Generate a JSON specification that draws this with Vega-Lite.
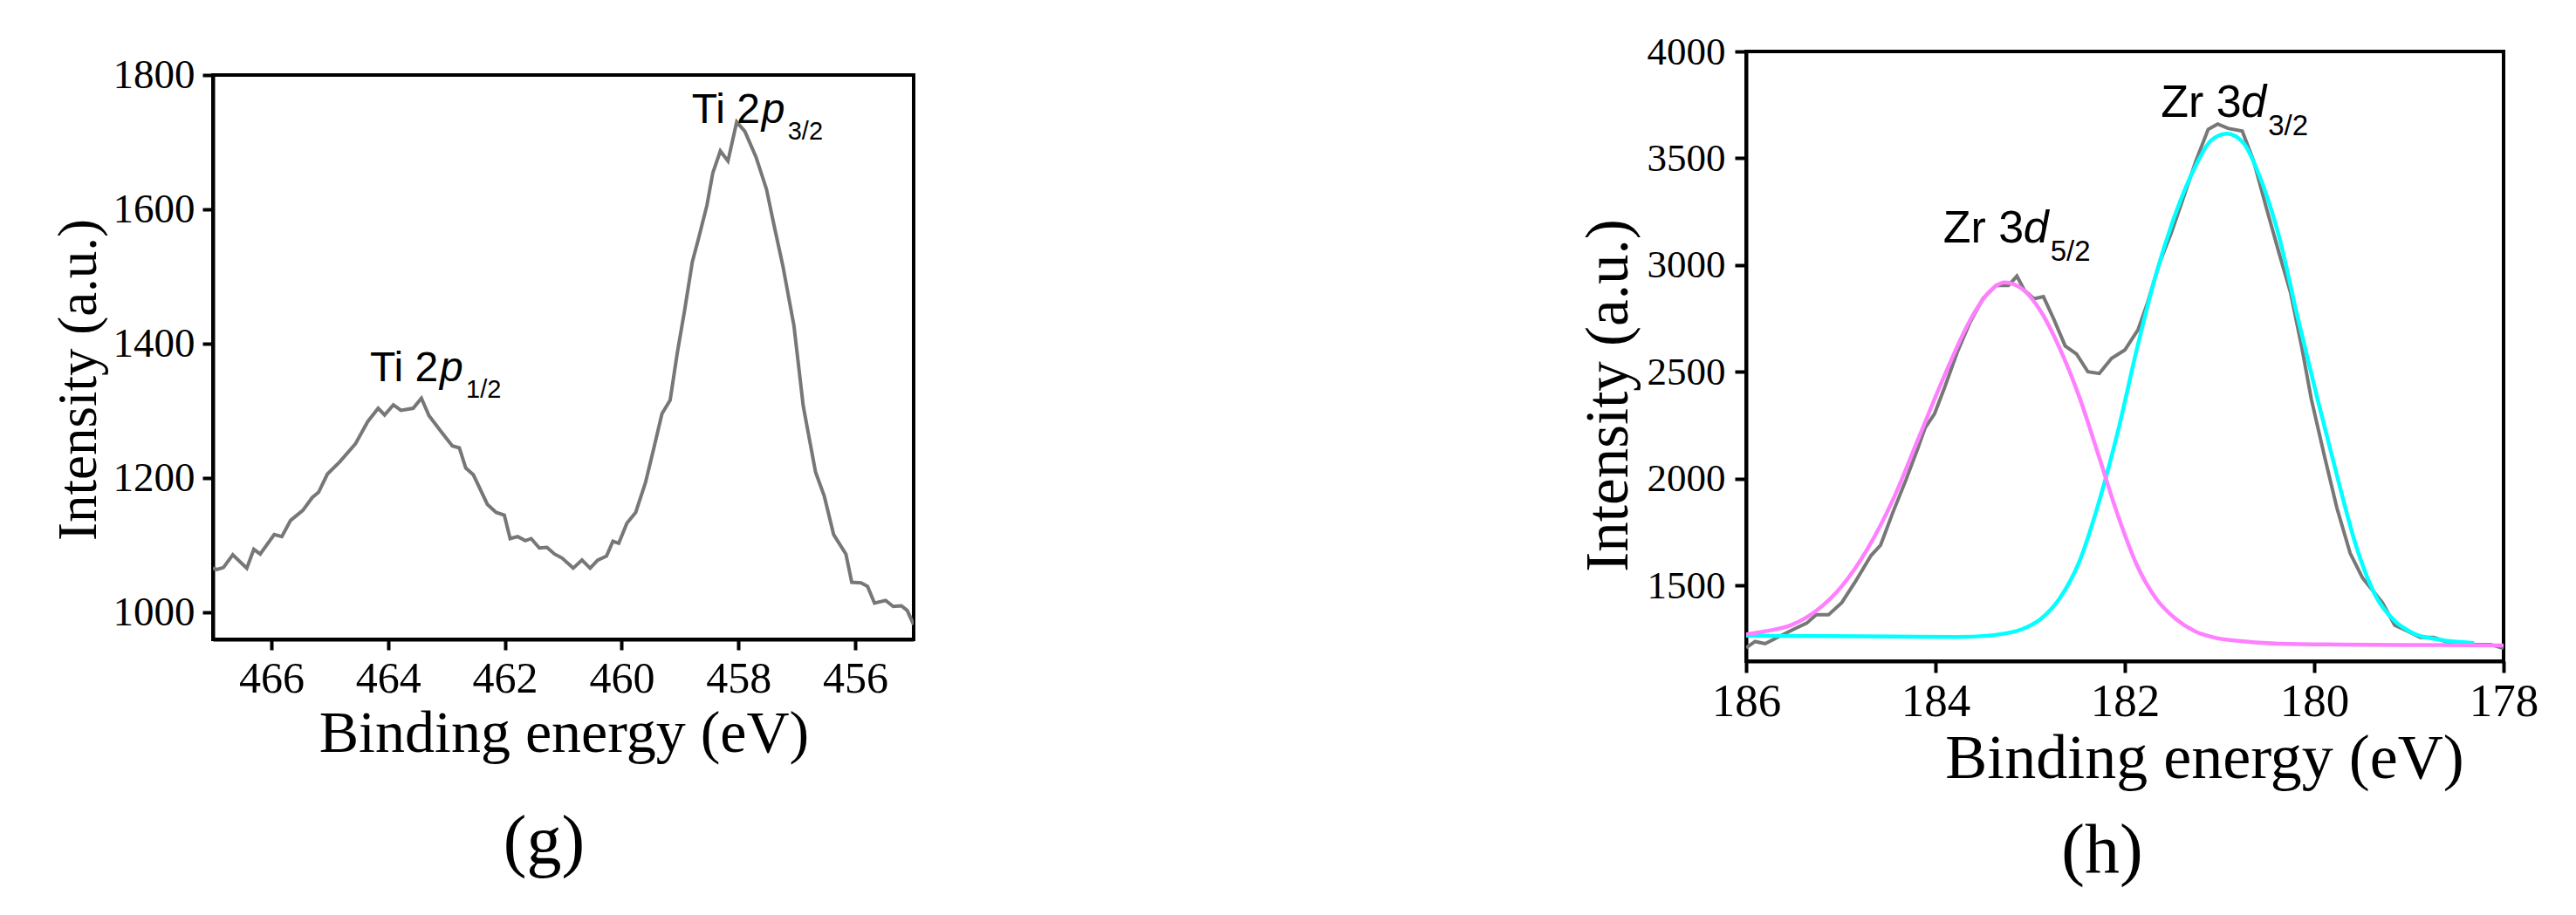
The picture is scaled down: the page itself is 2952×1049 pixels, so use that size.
{
  "$schema": "https://vega.github.io/schema/vega-lite/v6.json",
  "background": "white",
  "padding": {"left": 57, "top": 35, "right": 0, "bottom": 0},
  "spacing": 758,
  "config": {
    "view": {"stroke": "black", "strokeWidth": 4},
    "axis": {
      "grid": false,
      "domainColor": "black", "domainWidth": 4,
      "tickColor": "black", "tickWidth": 4,
      "labelFont": "Liberation Serif", "labelColor": "black",
      "titleFont": "Liberation Serif", "titleColor": "black", "titleFontWeight": "normal",
      "labelFlush": false, "labelOverlap": false, "format": "d"
    }
  },
  "datasets": {
    "ti": [
      {"be":467.00,"i":1066},{"be":466.93,"i":1064},{"be":466.82,"i":1067},{"be":466.66,"i":1086},{"be":466.42,"i":1066},
      {"be":466.30,"i":1094},{"be":466.19,"i":1087},{"be":465.95,"i":1116},{"be":465.82,"i":1113},{"be":465.67,"i":1137},
      {"be":465.46,"i":1152},{"be":465.30,"i":1171},{"be":465.19,"i":1179},{"be":465.04,"i":1206},{"be":464.83,"i":1224},
      {"be":464.56,"i":1251},{"be":464.35,"i":1284},{"be":464.17,"i":1304},{"be":464.06,"i":1294},{"be":463.91,"i":1309},
      {"be":463.78,"i":1301},{"be":463.57,"i":1304},{"be":463.43,"i":1319},{"be":463.30,"i":1293},{"be":463.09,"i":1269},
      {"be":462.90,"i":1248},{"be":462.78,"i":1245},{"be":462.67,"i":1215},{"be":462.54,"i":1205},{"be":462.30,"i":1161},
      {"be":462.15,"i":1149},{"be":462.01,"i":1145},{"be":461.91,"i":1110},{"be":461.78,"i":1113},{"be":461.65,"i":1107},
      {"be":461.55,"i":1110},{"be":461.41,"i":1096},{"be":461.28,"i":1097},{"be":461.15,"i":1087},{"be":461.02,"i":1081},
      {"be":460.83,"i":1066},{"be":460.68,"i":1078},{"be":460.54,"i":1066},{"be":460.41,"i":1078},{"be":460.26,"i":1084},
      {"be":460.15,"i":1106},{"be":460.05,"i":1103},{"be":459.91,"i":1133},{"be":459.76,"i":1149},{"be":459.59,"i":1194},
      {"be":459.44,"i":1248},{"be":459.31,"i":1296},{"be":459.17,"i":1316},{"be":459.05,"i":1385},{"be":458.92,"i":1451},
      {"be":458.79,"i":1522},{"be":458.68,"i":1558},{"be":458.54,"i":1606},{"be":458.44,"i":1654},{"be":458.31,"i":1687},
      {"be":458.18,"i":1672},{"be":458.03,"i":1730},{"be":457.89,"i":1716},{"be":457.70,"i":1678},{"be":457.52,"i":1630},
      {"be":457.39,"i":1576},{"be":457.24,"i":1516},{"be":457.05,"i":1427},{"be":456.89,"i":1307},{"be":456.68,"i":1209},
      {"be":456.53,"i":1173},{"be":456.37,"i":1116},{"be":456.16,"i":1087},{"be":456.06,"i":1045},{"be":455.90,"i":1044},
      {"be":455.79,"i":1039},{"be":455.67,"i":1014},{"be":455.48,"i":1018},{"be":455.35,"i":1009},{"be":455.21,"i":1010},
      {"be":455.11,"i":1003},{"be":455.00,"i":982}
    ],
    "tiLab": [
      {"main":"Ti 2","it":"p","sub":"3/2","be":458.80,"i":1728},
      {"main":"Ti 2","it":"p","sub":"1/2","be":464.31,"i":1344}
    ],
    "zrLab": [
      {"main":"Zr 3","it":"d","sub":"3/2","be":181.62,"i":3692},
      {"main":"Zr 3","it":"d","sub":"5/2","be":183.92,"i":3104}
    ],
    "zr": [
      {"s":"raw","be":186.00,"i":1208},{"s":"raw","be":185.905,"i":1237},{"s":"raw","be":185.80,"i":1227},{"s":"raw","be":185.67,"i":1256},
      {"s":"raw","be":185.50,"i":1294},{"s":"raw","be":185.36,"i":1323},{"s":"raw","be":185.26,"i":1362},{"s":"raw","be":185.13,"i":1362},
      {"s":"raw","be":184.99,"i":1419},{"s":"raw","be":184.85,"i":1515},{"s":"raw","be":184.68,"i":1640},{"s":"raw","be":184.58,"i":1688},
      {"s":"raw","be":184.45,"i":1842},{"s":"raw","be":184.31,"i":1996},{"s":"raw","be":184.18,"i":2150},{"s":"raw","be":184.11,"i":2237},
      {"s":"raw","be":184.01,"i":2304},{"s":"raw","be":183.91,"i":2419},{"s":"raw","be":183.77,"i":2592},{"s":"raw","be":183.64,"i":2727},
      {"s":"raw","be":183.50,"i":2842},{"s":"raw","be":183.36,"i":2904},{"s":"raw","be":183.23,"i":2904},{"s":"raw","be":183.14,"i":2948},
      {"s":"raw","be":183.06,"i":2881},{"s":"raw","be":182.96,"i":2842},{"s":"raw","be":182.86,"i":2852},{"s":"raw","be":182.75,"i":2746},
      {"s":"raw","be":182.63,"i":2621},{"s":"raw","be":182.51,"i":2583},{"s":"raw","be":182.39,"i":2500},{"s":"raw","be":182.27,"i":2492},
      {"s":"raw","be":182.14,"i":2563},{"s":"raw","be":182.00,"i":2602},{"s":"raw","be":181.86,"i":2698},{"s":"raw","be":181.76,"i":2823},
      {"s":"raw","be":181.63,"i":3015},{"s":"raw","be":181.51,"i":3150},{"s":"raw","be":181.39,"i":3304},{"s":"raw","be":181.25,"i":3487},
      {"s":"raw","be":181.12,"i":3635},{"s":"raw","be":181.02,"i":3660},{"s":"raw","be":180.91,"i":3640},{"s":"raw","be":180.76,"i":3627},
      {"s":"raw","be":180.64,"i":3487},{"s":"raw","be":180.51,"i":3275},{"s":"raw","be":180.37,"i":3054},{"s":"raw","be":180.25,"i":2871},
      {"s":"raw","be":180.13,"i":2612},{"s":"raw","be":180.03,"i":2371},{"s":"raw","be":179.89,"i":2102},{"s":"raw","be":179.76,"i":1862},
      {"s":"raw","be":179.62,"i":1650},{"s":"raw","be":179.49,"i":1535},{"s":"raw","be":179.28,"i":1419},{"s":"raw","be":179.15,"i":1314},
      {"s":"raw","be":179.01,"i":1285},{"s":"raw","be":178.88,"i":1256},{"s":"raw","be":178.74,"i":1256},{"s":"raw","be":178.61,"i":1237},
      {"s":"raw","be":178.35,"i":1223},{"s":"raw","be":178.14,"i":1223},{"s":"raw","be":178.00,"i":1205},
      {"s":"p52","be":186.00,"i":1271},{"s":"p52","be":185.80,"i":1285},{"s":"p52","be":185.53,"i":1313},{"s":"p52","be":185.26,"i":1381},
      {"s":"p52","be":184.99,"i":1496},{"s":"p52","be":184.72,"i":1669},{"s":"p52","be":184.45,"i":1900},{"s":"p52","be":184.18,"i":2188},
      {"s":"p52","be":183.91,"i":2477},{"s":"p52","be":183.64,"i":2737},{"s":"p52","be":183.44,"i":2871},{"s":"p52","be":183.27,"i":2919},
      {"s":"p52","be":183.09,"i":2890},{"s":"p52","be":182.89,"i":2785},{"s":"p52","be":182.69,"i":2612},{"s":"p52","be":182.48,"i":2381},
      {"s":"p52","be":182.28,"i":2112},{"s":"p52","be":182.07,"i":1823},{"s":"p52","be":181.87,"i":1592},{"s":"p52","be":181.67,"i":1438},
      {"s":"p52","be":181.46,"i":1342},{"s":"p52","be":181.26,"i":1285},{"s":"p52","be":181.06,"i":1256},{"s":"p52","be":180.72,"i":1237},
      {"s":"p52","be":180.37,"i":1227},{"s":"p52","be":179.70,"i":1223},{"s":"p52","be":179.02,"i":1221},{"s":"p52","be":178.00,"i":1219},
      {"s":"p32","be":186.00,"i":1264},{"s":"p32","be":185.13,"i":1262},{"s":"p32","be":184.45,"i":1260},{"s":"p32","be":183.77,"i":1258},
      {"s":"p32","be":183.43,"i":1265},{"s":"p32","be":183.09,"i":1294},{"s":"p32","be":182.89,"i":1342},{"s":"p32","be":182.69,"i":1438},
      {"s":"p32","be":182.48,"i":1612},{"s":"p32","be":182.28,"i":1881},{"s":"p32","be":182.07,"i":2227},{"s":"p32","be":181.87,"i":2612},
      {"s":"p32","be":181.67,"i":2958},{"s":"p32","be":181.46,"i":3246},{"s":"p32","be":181.26,"i":3458},{"s":"p32","be":181.09,"i":3583},
      {"s":"p32","be":180.92,"i":3615},{"s":"p32","be":180.75,"i":3573},{"s":"p32","be":180.58,"i":3419},{"s":"p32","be":180.37,"i":3131},
      {"s":"p32","be":180.18,"i":2765},{"s":"p32","be":179.97,"i":2381},{"s":"p32","be":179.76,"i":2015},{"s":"p32","be":179.56,"i":1688},
      {"s":"p32","be":179.36,"i":1458},{"s":"p32","be":179.15,"i":1333},{"s":"p32","be":178.95,"i":1275},{"s":"p32","be":178.68,"i":1246},
      {"s":"p32","be":178.31,"i":1230}
    ]
  },
  "hconcat": [
    {
      "spacing": 0,
      "vconcat": [
        {
          "width": 800, "height": 1,
          "data": {"values": [{"k": 1}]},
          "mark": {"type": "point", "opacity": 0, "size": 1},
          "encoding": {},
          "view": {"stroke": null}
        },
        {
          "width": 803, "height": 647,
          "title": {"text": "(g)", "orient": "bottom", "frame": "group", "anchor": "middle", "dx": -22, "offset": 52, "baseline": "top", "font": "Liberation Serif", "fontSize": 80, "fontWeight": "normal", "color": "black"},
          "encoding": {
            "x": {"field": "be", "type": "quantitative",
              "scale": {"domain": [455, 467], "reverse": true, "nice": false, "zero": false},
              "axis": {"values": [456, 458, 460, 462, 464, 466], "title": "Binding energy (eV)", "tickSize": 12, "labelPadding": 8, "labelFontSize": 50,
                "titleFontSize": 68, "titleX": 402, "titleY": 128, "titleBaseline": "alphabetic", "titleAlign": "center"}},
            "y": {"field": "i", "type": "quantitative",
              "scale": {"domain": [960, 1800], "nice": false, "zero": false},
              "axis": {"values": [1000, 1200, 1400, 1600, 1800], "title": "Intensity (a.u.)", "tickSize": 12, "labelPadding": 9, "labelFontSize": 47,
                "titleFontSize": 63, "titleX": -135, "titleY": 349, "titleAngle": -90, "titleBaseline": "alphabetic", "titleAlign": "center"}}
          },
          "layer": [
            {"data": {"name": "ti"}, "mark": {"type": "line", "color": "#777777", "strokeWidth": 4, "clip": true}},
            {"data": {"name": "tiLab"}, "mark": {"type": "text", "font": "Liberation Sans", "fontSize": 48, "align": "left", "baseline": "alphabetic", "color": "black"},
              "encoding": {"text": {"field": "main"}}},
            {"data": {"name": "tiLab"}, "mark": {"type": "text", "font": "Liberation Sans", "fontSize": 48, "fontStyle": "italic", "align": "left", "baseline": "alphabetic", "dx": 80, "color": "black"},
              "encoding": {"text": {"field": "it"}}},
            {"data": {"name": "tiLab"}, "mark": {"type": "text", "font": "Liberation Sans", "fontSize": 29, "align": "left", "baseline": "alphabetic", "dx": 110, "dy": 19, "color": "black"},
              "encoding": {"text": {"field": "sub"}}}
          ]
        }
      ]
    },
    {
      "width": 868, "height": 699,
      "title": {"text": "(h)", "orient": "bottom", "frame": "group", "anchor": "middle", "dx": -26, "offset": 32, "baseline": "top", "font": "Liberation Serif", "fontSize": 80, "fontWeight": "normal", "color": "black"},
      "encoding": {
        "x": {"field": "be", "type": "quantitative",
          "scale": {"domain": [178, 186], "reverse": true, "nice": false, "zero": false},
          "axis": {"values": [178, 180, 182, 184, 186], "title": "Binding energy (eV)", "tickSize": 13, "labelPadding": 7, "labelFontSize": 53,
            "titleFontSize": 72, "titleX": 525, "titleY": 133, "titleBaseline": "alphabetic", "titleAlign": "center"}},
        "y": {"field": "i", "type": "quantitative",
          "scale": {"domain": [1145, 4000], "nice": false, "zero": false},
          "axis": {"values": [1500, 2000, 2500, 3000, 3500, 4000], "title": "Intensity (a.u.)", "tickSize": 13, "labelPadding": 11, "labelFontSize": 45,
            "titleFontSize": 69, "titleX": -137, "titleY": 394, "titleAngle": -90, "titleBaseline": "alphabetic", "titleAlign": "center"}}
      },
      "layer": [
        {"data": {"name": "zr"}, "transform": [{"filter": "datum.s == 'raw'"}], "mark": {"type": "line", "color": "#777777", "strokeWidth": 4, "clip": true}},
        {"data": {"name": "zr"}, "transform": [{"filter": "datum.s == 'p32'"}], "mark": {"type": "line", "color": "#00ffff", "strokeWidth": 4.5, "clip": true, "interpolate": "monotone"}},
        {"data": {"name": "zr"}, "transform": [{"filter": "datum.s == 'p52'"}], "mark": {"type": "line", "color": "#ff80ff", "strokeWidth": 4.5, "clip": true, "interpolate": "monotone"}},
        {"data": {"name": "zrLab"}, "mark": {"type": "text", "font": "Liberation Sans", "fontSize": 52, "align": "left", "baseline": "alphabetic", "color": "black"},
          "encoding": {"text": {"field": "main"}}},
        {"data": {"name": "zrLab"}, "mark": {"type": "text", "font": "Liberation Sans", "fontSize": 52, "fontStyle": "italic", "align": "left", "baseline": "alphabetic", "dx": 92, "color": "black"},
          "encoding": {"text": {"field": "it"}}},
        {"data": {"name": "zrLab"}, "mark": {"type": "text", "font": "Liberation Sans", "fontSize": 33, "align": "left", "baseline": "alphabetic", "dx": 123, "dy": 21, "color": "black"},
          "encoding": {"text": {"field": "sub"}}}
      ]
    }
  ]
}
